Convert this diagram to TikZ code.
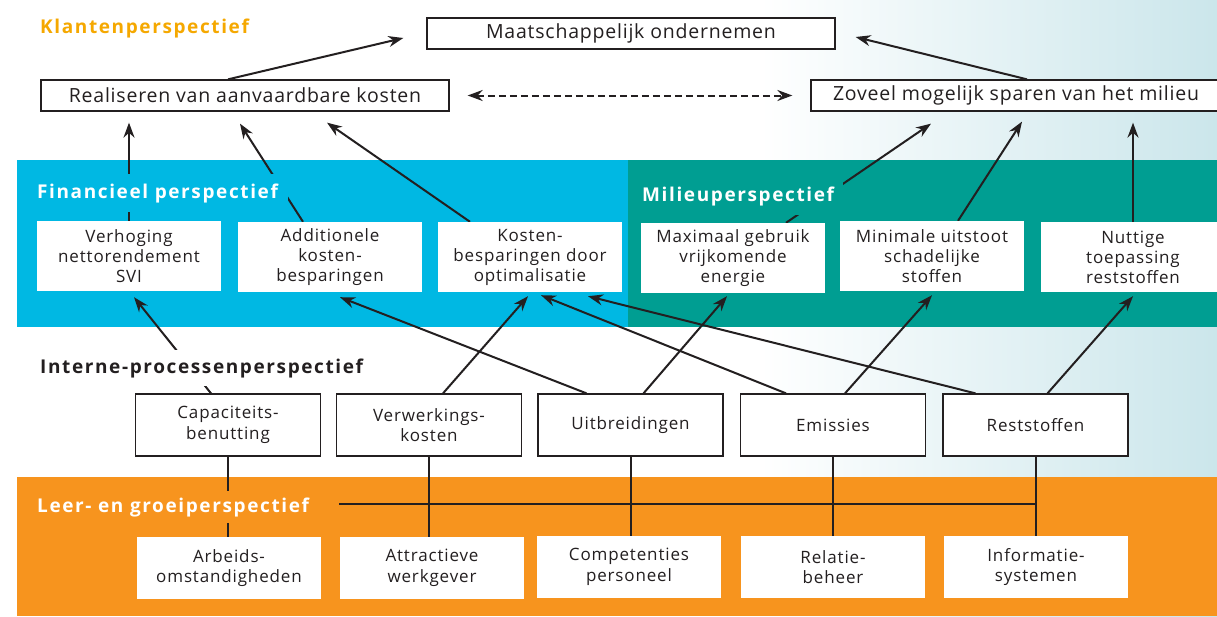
\documentclass[tikz,border=0pt]{standalone}
\usepackage{fontspec}
\setmainfont{Open Sans}
\newfontfamily\topfont[LetterSpace=4]{Open Sans}
\newfontfamily\boxfont[LetterSpace=5]{Open Sans}
\newfontfamily\labfont[LetterSpace=8.5]{Open Sans}
\usetikzlibrary{arrows.meta,calc}
\definecolor{fincyan}{RGB}{0,184,227}
\definecolor{milteal}{RGB}{0,158,146}
\definecolor{leerorange}{RGB}{247,148,30}
\definecolor{klantgold}{RGB}{245,168,0}
\definecolor{ink}{RGB}{35,31,32}
\definecolor{bgblue}{RGB}{203,230,235}
\pgfdeclarelayer{lines}
\pgfsetlayers{lines,main}
\begin{document}
\begin{tikzpicture}[x=1pt,y=-1pt,
  topbox/.style={draw=ink,line width=1.3pt,fill=white,minimum height=31pt,inner sep=0pt,
    font=\topfont\fontsize{19.5}{22}\selectfont,text=ink},
  whitebox/.style={fill=white,minimum width=184pt,minimum height=70pt,inner sep=0pt,align=center,
    font=\boxfont\fontsize{17}{20}\selectfont,text=ink},
  procbox/.style={draw=ink,line width=1.3pt,fill=white,minimum width=185pt,minimum height=62pt,inner sep=0pt,align=center,
    font=\boxfont\fontsize{17}{20.5}\selectfont,text=ink},
  learnbox/.style={fill=white,minimum width=184pt,minimum height=62pt,inner sep=0pt,align=center,
    font=\boxfont\fontsize{17}{20.5}\selectfont,text=ink},
  persp/.style={anchor=base west,inner sep=4pt,font=\labfont\fontsize{19}{21}\selectfont\bfseries},
  conn/.style={draw=ink,line width=2pt},
  arr/.style={conn,-{Stealth[length=15pt,width=11pt]}},
]
\useasboundingbox (0,0) rectangle (1217,616);
\begin{pgfonlayer}{lines}
\fill[white] (0,0) rectangle (1217,616);
\shade[left color=white,right color=bgblue] (760,0) rectangle (1217,616);
\fill[fincyan] (17,160) rectangle (630,327);
\fill[milteal] (628,160) rectangle (1217,327);
\fill[leerorange] (17,477) rectangle (1217,616);
\end{pgfonlayer}

\begin{scope}
\clip (0,0) rectangle (1217,616);
\node[topbox,minimum width=408pt] (maat) at (631,33.5) {Maatschappelijk ondernemen};
\node[topbox,minimum width=408pt] (real) at (245,95.5) {Realiseren van aanvaardbare kosten};
\node[topbox,minimum width=410pt] (zov) at (1016,95.5) {Zoveel mogelijk sparen van het milieu};

\node[whitebox] (fin1) at (129,256) {Verhoging\\nettorendement\\SVI};
\node[whitebox] (fin2) at (330,257) {Additionele\\kosten-\\besparingen};
\node[whitebox] (fin3) at (530,257) {Kosten-\\besparingen door\\optimalisatie};
\node[whitebox] (mil1) at (733,258) {Maximaal gebruik\\vrijkomende\\energie};
\node[whitebox] (mil2) at (932,256) {Minimale uitstoot\\schadelijke\\stoffen};
\node[whitebox] (mil3) at (1133,257) {Nuttige\\toepassing\\reststoffen};

\node[procbox] (cap) at (228,425) {Capaciteits-\\benutting};
\node[procbox] (ver) at (429,425) {Verwerkings-\\kosten};
\node[procbox] (uit) at (630.5,425) {Uitbreidingen};
\node[procbox] (emi) at (833,425) {Emissies};
\node[procbox] (res) at (1035.5,425) {Reststoffen};

\node[learnbox] (arb) at (229,568) {Arbeids-\\omstandigheden};
\node[learnbox] (att) at (432,568) {Attractieve\\werkgever};
\node[learnbox] (com) at (629,567) {Competenties\\personeel};
\node[learnbox] (rel) at (833,567) {Relatie-\\beheer};
\node[learnbox] (inf) at (1036,567) {Informatie-\\systemen};
\end{scope}

\begin{pgfonlayer}{lines}
\draw[arr] ($(real.north)+(-17,0)$) -- ($(maat.west)+(-23,4.5)$);
\draw[arr] ($(zov.north)+(11,0)$) -- ($(maat.east)+(20,3.5)$);
\draw[conn,dash pattern=on 7pt off 4pt,{Stealth[length=15pt,width=11pt]}-{Stealth[length=15pt,width=11pt]}]
  ($(real.east)+(18,0)$) -- ($(zov.west)+(-18,0)$);

\draw[arr] (fin1.north) -- ($(real.south)+(-116,11)$);
\draw[arr] ($(fin2.north)+(-27,0)$) -- ($(real.south)+(-5,12)$);
\draw[arr] ($(fin3.north)+(-60,0)$) -- ($(real.south)+(82,11)$);
\draw[arr] ($(mil1.north)+(53,0)$) -- ($(zov.south)+(-85,12)$);
\draw[arr] ($(mil2.north)+(26,0)$) -- ($(zov.south)+(6,10)$);
\draw[arr] (mil3.north) -- ($(zov.south)+(117,11)$);

\draw[arr] ($(cap.north)+(-17,0)$) -- ($(fin1.south)+(5,6)$);
\draw[arr] ($(ver.north)+(14,0)$) -- ($(fin3.south)+(-2,4)$);
\draw[arr] ($(uit.north)+(-44,0)$) -- ($(fin2.south)+(10,5)$);
\draw[arr] ($(uit.north)+(13,0)$) -- ($(mil1.south)+(-6,3)$);
\draw[arr] ($(emi.north)+(-47,0)$) -- ($(fin3.south)+(11,3)$);
\draw[arr] ($(emi.north)+(12,0)$) -- ($(mil2.south)+(0,4)$);
\draw[arr] ($(res.north)+(-60,0)$) -- ($(fin3.south)+(58,4)$);
\draw[arr] ($(res.north)+(12,0)$) -- ($(mil3.south)+(0,4)$);

\coordinate (hl) at (339,504);
\draw[conn] (hl) -- (res.south |- hl);
\draw[conn] (cap.south) -- (cap.south |- arb.north);
\draw[conn] (ver.south) -- (ver.south |- att.north);
\draw[conn] (uit.south) -- (uit.south |- com.north);
\draw[conn] (emi.south) -- (emi.south |- rel.north);
\draw[conn] (res.south) -- (res.south |- inf.north);
\end{pgfonlayer}

\node[persp,text=klantgold] (lk) at (36,33) {Klantenperspectief};
\node[persp,text=white,fill=fincyan,inner xsep=10pt,inner ysep=9pt] (lf) at (27,198) {Financieel perspectief};
\node[persp,text=white,fill=milteal,inner xsep=9pt,inner ysep=9pt] (lm) at (633,201) {Milieuperspectief};
\node[persp,text=ink,fill=white,inner ysep=8pt] (li) at (36,373) {Interne-processenperspectief};
\node[persp,text=white,fill=leerorange,inner ysep=6pt] (ll) at (33,512) {Leer- en groeiperspectief};
\end{tikzpicture}
\end{document}
